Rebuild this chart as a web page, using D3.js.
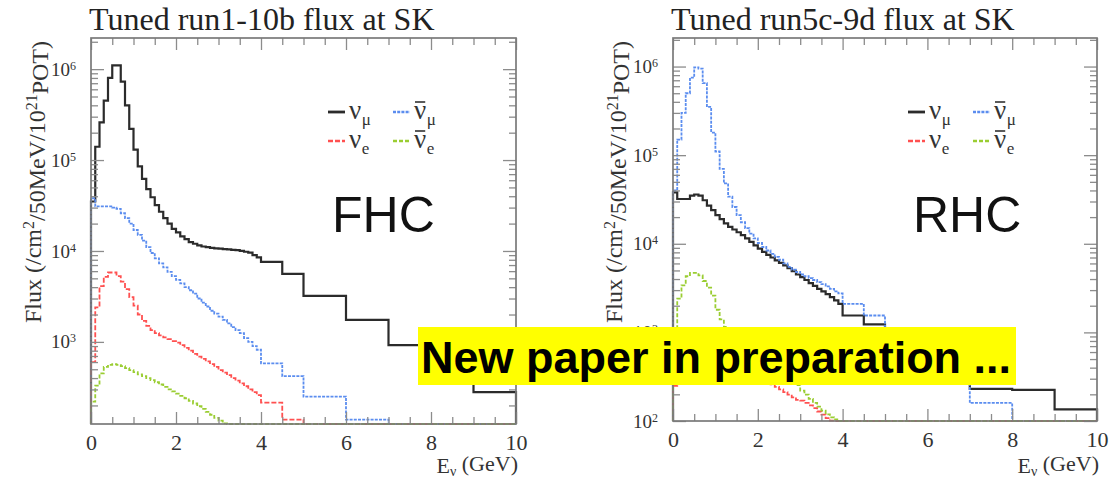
<!DOCTYPE html>
<html><head><meta charset="utf-8">
<script src="https://cdn.jsdelivr.net/npm/d3@7"></script>
<style>
body{margin:0;background:#fff;}
svg{display:block;}
</style></head><body>
<svg id="chart" width="1112" height="478"></svg>
<script>
// ---------- data ----------
const binEdges = [0,0.1,0.2,0.3,0.4,0.5,0.6,0.7,0.8,0.9,1.0,1.1,1.2,1.3,1.4,1.5,1.6,1.7,1.8,1.9,
  2.0,2.1,2.2,2.3,2.4,2.5,2.6,2.7,2.8,2.9,3.0,3.1,3.2,3.3,3.4,3.5,3.6,3.7,3.8,3.9,4.0,4.5,5,6,7,8,9,10];

const fhcNumu = [3.5e4,1.4e5,2.6e5,4.5e5,8.0e5,1.1e6,1.1e6,7.3e5,4.0e5,2.2e5,
  1.3e5,8.5e4,6.2e4,4.8e4,3.9e4,3.2e4,2.7e4,2.3e4,2.0e4,1.75e4,
  1.6e4,1.45e4,1.35e4,1.25e4,1.2e4,1.15e4,1.12e4,1.1e4,1.08e4,1.07e4,
  1.06e4,1.05e4,1.04e4,1.03e4,1.02e4,1.0e4,9.8e3,9.6e3,9.0e3,8.5e3,
  7.6e3,5.6e3,3.2e3,1.75e3,920,520,280];
const fhcNumubar = [3.8e4,3.1e4,3.1e4,3.1e4,3.1e4,3.0e4,2.9e4,2.6e4,2.3e4,2.0e4,
  1.7e4,1.5e4,1.3e4,1.1e4,9.5e3,8.3e3,7.3e3,6.6e3,5.9e3,5.3e3,
  4.8e3,4.4e3,4.0e3,3.7e3,3.4e3,3.0e3,2.7e3,2.45e3,2.2e3,2.05e3,
  1.9e3,1.75e3,1.6e3,1.45e3,1.35e3,1.25e3,1.1e3,1.0e3,900,820,
  580,420,250,140,0,0,0];
const fhcNue = [600,2.4e3,4.1e3,5.2e3,5.8e3,5.8e3,5.3e3,4.6e3,3.8e3,3.1e3,
  2.5e3,2.0e3,1.7e3,1.5e3,1.35e3,1.25e3,1.18e3,1.12e3,1.07e3,1.02e3,
  980,920,860,800,740,690,650,610,570,530,
  490,460,430,400,375,350,325,300,280,260,
  215,140,0,0,0,0,0];
const fhcNuebar = [220,330,450,530,560,570,560,540,515,490,
  465,440,420,400,380,360,340,320,300,285,
  270,255,240,225,210,196,183,170,158,146,
  136,127,118,0,0,0,0,0,0,0,
  0,0,0,0,0,0,0];

const rhcNumu = [3.8e4,3.2e4,3.2e4,3.2e4,3.5e4,3.6e4,3.5e4,3.1e4,2.7e4,2.4e4,
  2.1e4,1.9e4,1.7e4,1.55e4,1.45e4,1.35e4,1.25e4,1.15e4,1.05e4,9.6e3,
  8.8e3,8.1e3,7.5e3,7.0e3,6.5e3,6.1e3,5.7e3,5.3e3,4.9e3,4.5e3,
  4.2e3,3.9e3,3.6e3,3.35e3,3.1e3,2.9e3,2.7e3,2.5e3,2.3e3,2.1e3,
  1.55e3,1.23e3,700,380,230,225,135];
const rhcNumubar = [4.0e4,1.5e5,3.0e5,5.0e5,7.5e5,9.8e5,9.5e5,6.5e5,3.5e5,1.8e5,
  1.1e5,7.0e4,4.8e4,3.4e4,2.6e4,2.1e4,1.75e4,1.5e4,1.3e4,1.15e4,
  1.02e4,9.2e3,8.4e3,7.7e3,7.1e3,6.6e3,6.0e3,5.5e3,5.1e3,4.8e3,
  4.5e3,4.3e3,4.1e3,3.9e3,3.7e3,3.5e3,3.3e3,3.1e3,2.9e3,2.75e3,
  2.1e3,1.55e3,800,330,160,0,0];
const rhcNue = [250,500,700,820,870,870,840,800,740,690,
  640,590,550,510,475,445,415,390,365,340,
  318,298,278,260,243,227,212,198,185,173,
  170,160,150,140,128,118,108,101,0,0,
  0,0,0,0,0,0,0];
const rhcNuebar = [550,2.4e3,3.4e3,4.3e3,4.7e3,4.7e3,4.4e3,3.8e3,3.2e3,2.6e3,
  1.8e3,1.4e3,1.15e3,1.0e3,930,860,790,730,670,620,
  570,520,480,440,400,370,340,310,280,255,
  220,198,178,160,145,131,119,110,104,100,
  0,0,0,0,0,0,0];

const xTicks = [0,2,4,6,8,10];
const fhcYTicks = [1e3,1e4,1e5,1e6];
const rhcYTicks = [1e2,1e3,1e4,1e5,1e6];
const titles = ["Tuned run1-10b flux at SK","Tuned run5c-9d flux at SK"];
const modeLabels = ["FHC","RHC"];
const bannerText = "New paper in preparation ...";

// ---------- drawing ----------
const svg = d3.select("#chart");
const serif = "'Liberation Serif','Times New Roman',serif";
const sans = "'Liberation Sans',Arial,sans-serif";

const seriesStyle = [
  {color:"#2b2b2b", dash:null, width:2.2},
  {color:"#5b8def", dash:"3,1.2", width:1.8},
  {color:"#ff5050", dash:"5,2", width:1.8},
  {color:"#9acd32", dash:"4,2", width:1.8}
];
const legendNames = [{bar:false,sub:"μ"},{bar:true,sub:"μ"},{bar:false,sub:"e"},{bar:true,sub:"e"}];

const panels = [
  {title:titles[0], mode:modeLabels[0], x0:91, x1:516, y0:38, y1:424, ymin:125, ymax:2.2e6,
   yTicks:fhcYTicks, series:[fhcNumu,fhcNumubar,fhcNue,fhcNuebar],
   legX:328, legY:112, modeX:332, ylabX:41},
  {title:titles[1], mode:modeLabels[1], x0:673, x1:1097, y0:38, y1:421, ymin:100, ymax:2.1e6,
   yTicks:rhcYTicks, series:[rhcNumu,rhcNumubar,rhcNue,rhcNuebar],
   legX:908, legY:112, modeX:913, ylabX:622}
];

panels.forEach(p => {
  const x = d3.scaleLinear().domain([0,10]).range([p.x0,p.x1]);
  const y = d3.scaleLog().domain([p.ymin,p.ymax]).range([p.y1,p.y0]);
  const g = svg.append("g");

  // histograms
  p.series.forEach((vals,i) => {
    const pts = [[binEdges[0], p.ymin]];
    vals.forEach((v,j) => {
      const vv = Math.max(v, p.ymin);
      pts.push([binEdges[j], vv]);
      pts.push([binEdges[j+1], vv]);
    });
    pts.push([binEdges[binEdges.length-1], p.ymin]);
    const st = seriesStyle[i];
    g.append("path")
      .attr("d", d3.line().x(d=>x(d[0])).y(d=>y(d[1]))(pts))
      .attr("fill","none").attr("stroke",st.color).attr("stroke-width",st.width)
      .attr("stroke-dasharray", st.dash).attr("stroke-linejoin","miter");
  });

  // minor tick values
  const yMinor = [];
  for (let e = Math.floor(Math.log10(p.ymin)); e <= Math.ceil(Math.log10(p.ymax)); e++)
    for (let m = 2; m <= 9; m++) { const v = m*Math.pow(10,e); if (v>=p.ymin && v<=p.ymax) yMinor.push(v); }
  const xMinor = d3.range(0.5,10,0.5).filter(v => v%2 !== 0);

  const tickColor = "#8c8c8c";
  const styleAxis = s => { s.select(".domain").remove(); s.selectAll(".tick line").attr("stroke",tickColor).attr("stroke-width",1.3); };

  // left axis
  const la = g.append("g").attr("transform",`translate(${p.x0},0)`)
    .call(d3.axisLeft(y).tickValues(p.yTicks).tickSizeInner(-13).tickSizeOuter(0).tickPadding(15).tickFormat(()=>""));
  styleAxis(la);
  la.selectAll(".tick text").each(function(d){
    const t = d3.select(this).attr("font-family",serif).attr("font-size",19).attr("fill","#333");
    t.append("tspan").text("10");
    t.append("tspan").attr("dy","-0.5em").attr("font-size",12).text(Math.round(Math.log10(d)));
  });
  styleAxis(g.append("g").attr("transform",`translate(${p.x0},0)`)
    .call(d3.axisLeft(y).tickValues(yMinor).tickSize(-7).tickFormat(()=>"")));
  // right axis
  styleAxis(g.append("g").attr("transform",`translate(${p.x1},0)`)
    .call(d3.axisRight(y).tickValues(p.yTicks).tickSize(-13).tickFormat(()=>"")));
  styleAxis(g.append("g").attr("transform",`translate(${p.x1},0)`)
    .call(d3.axisRight(y).tickValues(yMinor).tickSize(-7).tickFormat(()=>"")));
  // bottom axis
  const ba = g.append("g").attr("transform",`translate(0,${p.y1})`)
    .call(d3.axisBottom(x).tickValues(xTicks).tickSizeInner(-12).tickSizeOuter(0).tickPadding(10).tickFormat(d3.format("d")));
  styleAxis(ba);
  ba.selectAll(".tick text").attr("font-family",serif).attr("font-size",22).attr("fill","#333");
  styleAxis(g.append("g").attr("transform",`translate(0,${p.y1})`)
    .call(d3.axisBottom(x).tickValues(xMinor).tickSize(-7).tickFormat(()=>"")));
  // top axis
  styleAxis(g.append("g").attr("transform",`translate(0,${p.y0})`)
    .call(d3.axisTop(x).tickValues(xTicks).tickSize(-12).tickFormat(()=>"")));
  styleAxis(g.append("g").attr("transform",`translate(0,${p.y0})`)
    .call(d3.axisTop(x).tickValues(xMinor).tickSize(-7).tickFormat(()=>"")));

  // frame
  g.append("rect").attr("x",p.x0).attr("y",p.y0).attr("width",p.x1-p.x0).attr("height",p.y1-p.y0)
    .attr("fill","none").attr("stroke","#7a7a7a").attr("stroke-width",1.7);

  // title
  g.append("text").attr("x",p.x0-2).attr("y",30).attr("font-family",serif).attr("font-size",32)
    .attr("fill","#222").text(p.title);

  // y label
  const yl = g.append("text").attr("transform",`translate(${p.ylabX},182) rotate(-90)`)
    .attr("text-anchor","middle").attr("font-family",serif).attr("font-size",24).attr("fill","#333");
  yl.append("tspan").text("Flux (/cm");
  yl.append("tspan").attr("dy","-0.45em").attr("font-size",16).text("2");
  yl.append("tspan").attr("dy","0.45em").text("/50MeV/10");
  yl.append("tspan").attr("dy","-0.45em").attr("font-size",16).text("21");
  yl.append("tspan").attr("dy","0.45em").text("POT)");

  // x label
  const xl = g.append("text").attr("x",p.x1+2).attr("y",473).attr("text-anchor","end")
    .attr("font-family",serif).attr("font-size",22).attr("fill","#333");
  xl.append("tspan").text("E");
  xl.append("tspan").attr("dy","0.22em").attr("font-size",14).text("ν");
  xl.append("tspan").attr("dy","-0.22em").text(" (GeV)");

  // legend
  legendNames.forEach((ln,i) => {
    const col = i%2, row = Math.floor(i/2);
    const lx = p.legX + col*65, ly = p.legY + row*29;
    const st = seriesStyle[i];
    g.append("line").attr("x1",lx).attr("x2",lx+17).attr("y1",ly).attr("y2",ly)
      .attr("stroke",st.color).attr("stroke-width",st.width+0.6).attr("stroke-dasharray",st.dash);
    const nuT = g.append("text").attr("x",lx+21).attr("y",ly+7).attr("font-family",serif)
      .attr("font-size",27).attr("fill","#333").text("ν");
    const bb = nuT.node().getBBox();
    if (ln.bar) g.append("line").attr("x1",bb.x+1).attr("x2",bb.x+bb.width-1)
      .attr("y1",ly-10).attr("y2",ly-10).attr("stroke","#333").attr("stroke-width",1.6);
    g.append("text").attr("x",bb.x+bb.width+0.5).attr("y",ly+13).attr("font-family",serif)
      .attr("font-size",17).attr("fill","#333").text(ln.sub);
  });

  // mode label
  g.append("text").attr("x",p.modeX).attr("y",232).attr("font-family",sans).attr("font-size",50)
    .attr("fill","#111").text(p.mode);
});

// banner
svg.append("rect").attr("x",418).attr("y",327).attr("width",598).attr("height",58).attr("fill","#ffff00");
svg.append("text").attr("x",421).attr("y",373).attr("font-family",sans).attr("font-weight","bold")
  .attr("font-size",45).attr("fill","#000").text(bannerText);
</script>
</body></html>
